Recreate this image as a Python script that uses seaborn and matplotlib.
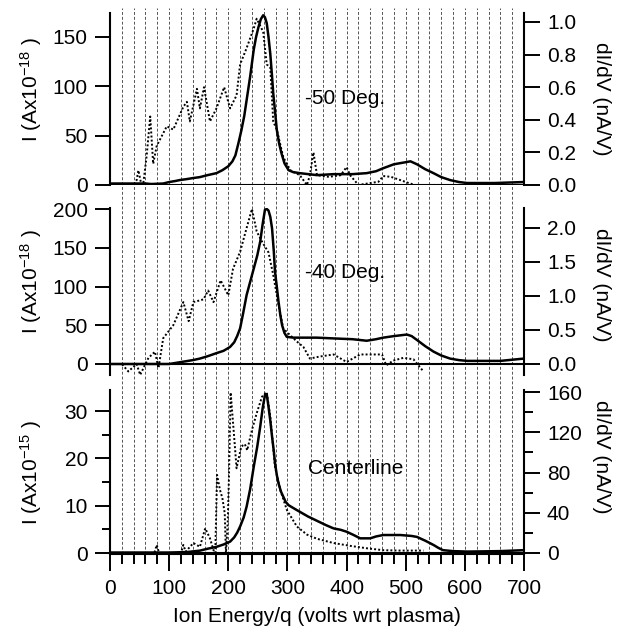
import numpy as np
import pandas as pd
import matplotlib
matplotlib.use("Agg")
import matplotlib.pyplot as plt
from matplotlib.ticker import MultipleLocator, FixedLocator, FormatStrFormatter
import seaborn as sns

sns.set_style("ticks")
plt.rcParams["font.family"] = ["Liberation Sans", "DejaVu Sans"]
plt.rcParams["mathtext.fontset"] = "custom"
plt.rcParams["mathtext.rm"] = "Liberation Sans"
plt.rcParams["mathtext.it"] = "Liberation Sans:italic"
for k in ["text.color", "axes.labelcolor", "xtick.color", "ytick.color", "axes.edgecolor"]:
    plt.rcParams[k] = "black"

# ---------------- data ----------------
# Panel 1: -50 Deg.  (solid: left axis, dotted: right axis)
p1_solid_x = [0, 60, 70, 90, 100, 110, 118, 130, 140, 152, 165, 180, 190, 200, 207, 212,
              217, 222, 227, 231, 237, 243, 247, 251, 255, 259, 262, 265, 268, 271, 274,
              276, 279, 282, 286, 290, 295, 302, 310, 321, 350, 378, 410, 434, 450, 462,
              480, 499, 508, 519, 533, 547, 560, 575, 590, 604, 650, 700]
p1_solid_y = [1.5, 1.5, 1, 1.5, 3, 4, 5, 6, 7, 8, 10, 12, 15, 19, 24, 30,
              42, 55, 70, 86, 110, 137, 150, 160, 168, 172, 170, 164, 150, 133, 110,
              93, 75, 56, 42, 32, 22, 15, 13, 12, 10, 11, 11, 12, 14, 17,
              21, 23, 24, 21, 16, 12, 8, 5, 3, 2, 2, 3]
p1_dot_x = [0, 20, 40, 45, 48, 52, 56, 62, 68, 73, 79, 96, 107, 124, 130, 135, 147, 152,
            159, 169, 180, 193, 203, 214, 220, 231, 243, 248, 259, 265, 271, 276, 282,
            293, 305, 321, 333, 338, 344, 350, 370, 390, 400, 406, 420, 454, 462, 475,
            491, 505, 516]
p1_dot_y = [0, 0, 0, 0.03, 0.09, 0.02, 0, 0.18, 0.42, 0.13, 0.24, 0.36, 0.34, 0.48, 0.51,
            0.39, 0.59, 0.47, 0.60, 0.39, 0.47, 0.60, 0.47, 0.55, 0.74, 0.84, 0.96, 1.02,
            0.94, 0.74, 0.72, 0.39, 0.34, 0.17, 0.09, 0.06, 0.0, 0.06, 0.20, 0.06, 0.05,
            0.06, 0.11, 0.06, 0.0, 0.02, 0.055, 0.05, 0.03, 0.012, 0.0]

# Panel 2: -40 Deg.
p2_solid_x = [0, 100, 112, 124, 140, 152, 165, 180, 192, 203, 210, 215, 220, 225, 231, 237,
              243, 249, 254, 258, 262, 265, 268, 271, 274, 277, 279, 282, 285, 288, 291,
              295, 299, 310, 321, 350, 378, 410, 434, 450, 462, 480, 491, 502, 510, 519,
              533, 547, 560, 575, 590, 604, 660, 700]
p2_solid_y = [0, 0, 1.5, 3, 5, 7, 10, 14, 17, 22, 28, 36, 46, 65, 89, 106,
              123, 140, 158, 180, 199, 200, 198, 190, 175, 145, 119, 100, 80, 63, 50,
              40, 35, 34, 34, 34, 33, 32, 30, 32, 34, 36, 37, 38, 36, 31,
              23, 16, 11, 7, 5, 4, 4, 7]
p2_dot_x = [0, 20, 31, 45, 51, 65, 76, 82, 90, 107, 124, 133, 141, 158, 166, 175, 187, 200,
            208, 220, 231, 240, 248, 257, 268, 276, 285, 293, 305, 316, 327, 338, 355,
            378, 400, 423, 431, 460, 467, 479, 496, 513, 530]
p2_dot_y = [0, 0, -0.11, 0, -0.16, 0.09, 0.18, -0.06, 0.38, 0.57, 0.91, 0.63, 0.91, 0.95,
            1.08, 0.91, 1.23, 1.01, 1.40, 1.65, 2.0, 2.28, 1.95, 1.80, 1.64, 1.31, 0.87,
            0.52, 0.42, 0.33, 0.25, 0.08, 0.11, 0.14, 0.03, 0.14, 0.14, 0.14, -0.02, 0.05,
            0.09, 0.07, -0.11]

# Panel 3: Centerline
p3_solid_x = [0, 100, 130, 152, 165, 180, 192, 203, 210, 215, 220, 226, 231, 237, 243, 249,
              254, 258, 262, 265, 268, 271, 274, 277, 279, 282, 285, 289, 293, 297, 302,
              310, 321, 335, 350, 365, 378, 390, 400, 412, 423, 440, 450, 462, 491, 510,
              519, 533, 547, 555, 563, 580, 604, 660, 700]
p3_solid_y = [0.1, 0.1, 0.2, 0.5, 0.9, 1.3, 1.8, 2.4, 3.3, 4.3, 5.6, 7.5, 9.8, 13.5, 18.2,
              22.5, 26.7, 30.5, 33.4, 33.5, 30.9, 28, 24.6, 21.5, 19, 16.5, 14.7, 13, 11.9,
              10.8, 10.1, 9.5, 8.7, 7.7, 6.8, 5.9, 5.2, 4.9, 4.5, 3.8, 3.1, 3.1, 3.5, 3.8,
              3.8, 3.6, 3.4, 2.6, 1.7, 1.1, 0.6, 0.4, 0.3, 0.4, 0.6]
p3_dot_x = [0, 60, 75, 79, 83, 120, 124, 128, 141, 152, 161, 169, 175, 178, 181, 186, 190,
            194, 196, 199, 201, 204, 209, 214, 222, 228, 232, 240, 248, 257, 265, 271, 279,
            288, 299, 316, 333, 350, 378, 406, 434, 462, 491, 530]
p3_dot_y = [0, 0, 0, 8, 0, 0, 8, 1.4, 9.9, 6.1, 24.5, 14.6, 2.8, 0, 77.6, 62.6, 54.6, 39.5,
            0, 29.6, 72, 159.5, 122.3, 84.2, 105.9, 108.2, 102.1, 122.3, 138.8, 155.3, 160,
            135.5, 85.6, 62.6, 42.8, 26.3, 18.3, 14.1, 9.9, 7.1, 4.7, 2.8, 2.4, 2.4]

panel_labels = ["-50 Deg.", "-40 Deg.", "Centerline"]
left_labels = [r"I (Ax10$^{\mathregular{-18}}$ )", r"I (Ax10$^{\mathregular{-18}}$ )",
               r"I (Ax10$^{\mathregular{-15}}$ )"]
right_label = "dI/dV (nA/V)"
x_label = "Ion Energy/q (volts wrt plasma)"

# ---------------- figure ----------------
W, H = 626, 630
fig = plt.figure(figsize=(W / 100, H / 100), dpi=100)

def rect(top, bottom, left=110, right=524):
    return [left / W, (H - bottom) / H, (right - left) / W, (bottom - top) / H]

FS = 15
LW = 1.5
tick_kw = dict(width=1.4, color="black", labelsize=FS, pad=5, labelcolor="black")

# background grid axis (vertical dashed lines spanning all panels)
bg = fig.add_axes(rect(8, 554))
bg.set_xlim(0, 700)
bg.set_ylim(0, 1)
bg.vlines(np.arange(20, 700, 20), 0, 1, colors="#555555", linewidth=0.7,
          linestyles=(0, (3, 2)))
bg.axis("off")

panels = [
    dict(top=13, bottom=185, lylim=(0, 174.3), rylim=(0, 1.055),
         lmaj=50, rticks=[0, 0.2, 0.4, 0.6, 0.8, 1.0], rfmt="%.1f",
         sx=p1_solid_x, sy=p1_solid_y, dx=p1_dot_x, dy=p1_dot_y,
         lab_y=89, rlab_y=99, txt_y=98, txt_x=305),
    dict(top=208, bottom=375, lylim=(-14.2, 201.3), rylim=(-0.162, 2.294),
         lmaj=50, rticks=[0, 0.5, 1.0, 1.5, 2.0], rfmt="%.1f",
         sx=p2_solid_x, sy=p2_solid_y, dx=p2_dot_x, dy=p2_dot_y,
         lab_y=281, rlab_y=285, txt_y=273, txt_x=305),
    dict(top=390, bottom=554, lylim=(-0.21, 34.44), rylim=(-1.0, 162.0),
         lmaj=10, rticks=[0, 40, 80, 120, 160], rfmt="%d",
         sx=p3_solid_x, sy=p3_solid_y, dx=p3_dot_x, dy=p3_dot_y,
         lab_y=472, rlab_y=457, txt_y=468, txt_x=308),
]

for i, p in enumerate(panels):
    ax = fig.add_axes(rect(p["top"], p["bottom"]))
    ax.patch.set_alpha(0)
    ax.set_xlim(0, 700)
    ax.set_ylim(*p["lylim"])
    ax2 = ax.twinx()
    ax2.set_ylim(*p["rylim"])

    df_s = pd.DataFrame({"x": p["sx"], "y": p["sy"]})
    df_d = pd.DataFrame({"x": p["dx"], "y": p["dy"]})
    sns.lineplot(data=df_s, x="x", y="y", ax=ax, color="black", linewidth=1.8,
                 estimator=None, sort=False)
    sns.lineplot(data=df_d, x="x", y="y", ax=ax2, color="black", linewidth=1.4,
                 linestyle=(0, (1, 1.1)), estimator=None, sort=False)
    ax.axhline(0, color="black", linewidth=LW, zorder=1)

    for a in (ax, ax2):
        a.set_xlabel("")
        a.set_ylabel("")
        for s in a.spines.values():
            s.set_linewidth(LW)
            s.set_color("black")
        a.spines["top"].set_visible(False)
    ax.spines["right"].set_visible(False)
    ax2.spines["left"].set_visible(False)
    ax2.spines["bottom"].set_visible(False)
    ax2.spines["right"].set_visible(True)
    ax2.xaxis.set_visible(False)

    ax.yaxis.set_major_locator(MultipleLocator(p["lmaj"]))
    ax.tick_params(axis="y", which="major", direction="out", length=11, **tick_kw)
    ax2.yaxis.set_major_locator(FixedLocator(p["rticks"]))
    ax2.yaxis.set_major_formatter(FormatStrFormatter(p["rfmt"]))
    ax2.tick_params(axis="y", which="major", direction="out", length=11.5, **tick_kw)

    if i < 2:
        ax.spines["bottom"].set_visible(False)
        ax.xaxis.set_visible(False)
    else:
        ax.yaxis.set_minor_locator(MultipleLocator(5))
        ax.tick_params(axis="y", which="minor", direction="out", length=6, width=1.4,
                       color="black")
        ax2.yaxis.set_minor_locator(FixedLocator([20, 60, 100, 140]))
        ax2.tick_params(axis="y", which="minor", direction="out", length=6.5, width=1.4,
                        color="black")
        ax.xaxis.set_major_locator(MultipleLocator(100))
        ax.xaxis.set_minor_locator(MultipleLocator(20))
        ax.xaxis.set_ticks_position("bottom")
        ax.tick_params(axis="x", which="major", direction="out", length=12, width=1.4,
                       labelsize=FS, pad=6, top=False, color="black")
        ax.tick_params(axis="x", which="minor", direction="out", length=7, width=1.4,
                       top=False, color="black")

    fig.text(31 / W, 1 - p["lab_y"] / H, left_labels[i], rotation=90, ha="center",
             va="center", fontsize=FS, rotation_mode="anchor")
    fig.text(602 / W, 1 - p["rlab_y"] / H, right_label, rotation=-90, ha="center",
             va="center", fontsize=FS, rotation_mode="anchor")
    fig.text(p["txt_x"] / W, 1 - p["txt_y"] / H, panel_labels[i], ha="left",
             va="center", fontsize=FS)

fig.text(317 / W, 1 - 617 / H, x_label, ha="center", va="center", fontsize=FS)

fig.savefig("out.png", dpi=100)
